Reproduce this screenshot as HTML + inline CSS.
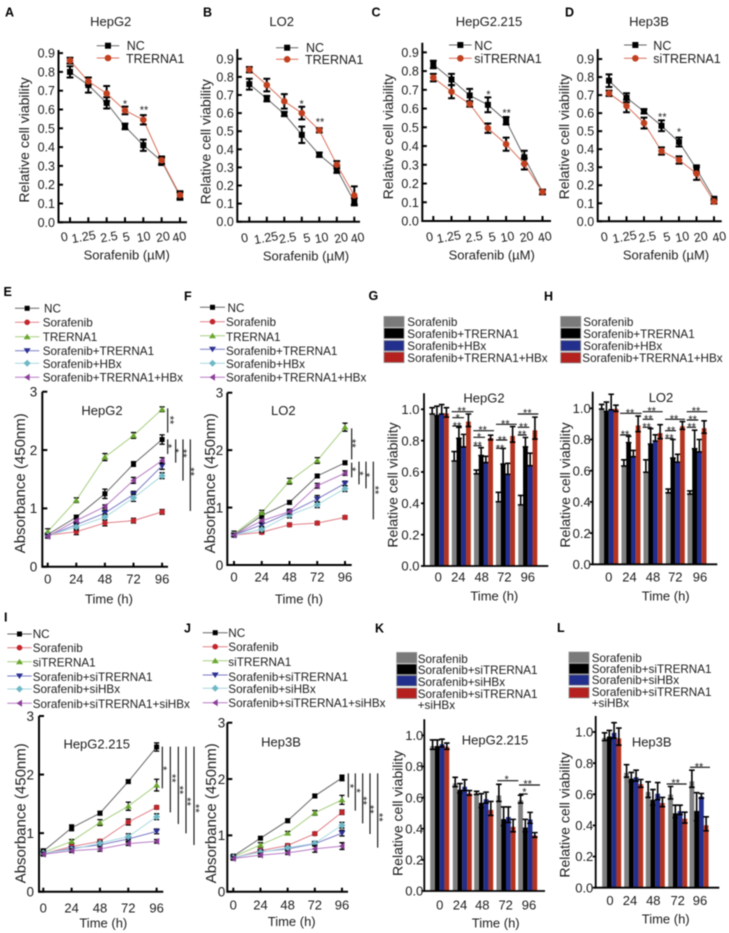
<!DOCTYPE html>
<html lang="en">
<head>
<meta charset="utf-8">
<title>Sorafenib viability and proliferation panels</title>
<style>
html,body{margin:0;padding:0;background:#fff;}
body{width:729px;height:933px;overflow:hidden;}
svg{display:block;filter:blur(.45px);}
text{font-family:"Liberation Sans",sans-serif;fill:#1c1c1c;}
.pl{font-size:12.5px;font-weight:bold;fill:#000;}
.ti{font-size:13px;text-anchor:middle;}
.yt{font-size:14px;text-anchor:middle;}
.yta{font-size:15px;text-anchor:middle;}
.xt{font-size:13px;text-anchor:middle;}
.lg{font-size:12.5px;}
.lm{font-size:11.7px;}
.st{font-size:33px;text-anchor:middle;}
.sg{stroke:#111;stroke-width:3.4;fill:none;}
</style>
</head>
<body>
<svg id="figure" xmlns="http://www.w3.org/2000/svg" width="729" height="933" viewBox="0 0 729 933">
<g id="marks"></g>

<g>
<text class="pl" x="5" y="16.5">A</text>
<text class="pl" x="203" y="16.5">B</text>
<text class="pl" x="371.5" y="16.5">C</text>
<text class="pl" x="565" y="16.5">D</text>
<text class="pl" x="3.5" y="296">E</text>
<text class="pl" x="184" y="300.5">F</text>
<text class="pl" x="368.5" y="300">G</text>
<text class="pl" x="544" y="300.5">H</text>
<text class="pl" x="4" y="621.5">I</text>
<text class="pl" x="184" y="632.5">J</text>
<text class="pl" x="375" y="632.5">K</text>
<text class="pl" x="557" y="632">L</text>
</g>

<g>
<text class="ti" x="110.7" y="26">HepG2</text>
<text class="ti" x="281.7" y="26">LO2</text>
<text class="ti" x="489" y="26">HepG2.215</text>
<text class="ti" x="649" y="26">Hep3B</text>
<text class="ti" x="102" y="415">HepG2</text>
<text class="ti" x="283.3" y="415">LO2</text>
<text class="ti" x="484" y="402.3">HepG2</text>
<text class="ti" x="661" y="402">LO2</text>
<text class="ti" x="96.7" y="748.3">HepG2.215</text>
<text class="ti" x="281" y="746.7">Hep3B</text>
<text class="ti" x="495" y="744.3">HepG2.215</text>
<text class="ti" x="651.7" y="746.7">Hep3B</text>
</g>

<g>
<text class="yt" transform="translate(29,140) rotate(-90)">Relative cell viability</text>
<text class="yt" transform="translate(210.7,141.7) rotate(-90)">Relative cell viability</text>
<text class="yt" transform="translate(393,136.7) rotate(-90)">Relative cell viability</text>
<text class="yt" transform="translate(569,136.7) rotate(-90)">Relative cell viability</text>
<text class="xt" x="126.7" y="259.3">Sorafenib (µM)</text>
<text class="xt" x="306" y="260.7">Sorafenib (µM)</text>
<text class="xt" x="491.7" y="259.3">Sorafenib (µM)</text>
<text class="xt" x="666" y="259.3">Sorafenib (µM)</text>
<text class="yta" transform="translate(25,483.3) rotate(-90)">Absorbance (450nm)</text>
<text class="yta" transform="translate(215,483.3) rotate(-90)">Absorbance (450nm)</text>
<text class="yt" transform="translate(397.3,485) rotate(-90)">Relative cell viability</text>
<text class="yt" transform="translate(570,485) rotate(-90)">Relative cell viability</text>
<text class="yta" transform="translate(25.5,813.3) rotate(-90)">Absorbance (450nm)</text>
<text class="yta" transform="translate(216,813.3) rotate(-90)">Absorbance (450nm)</text>
<text class="yt" transform="translate(402.3,813.3) rotate(-90)">Relative cell viability</text>
<text class="yt" transform="translate(569.3,815) rotate(-90)">Relative cell viability</text>
<text class="xt" x="109" y="603.3">Time (h)</text>
<text class="xt" x="299" y="603.3">Time (h)</text>
<text class="xt" x="494.3" y="600.7">Time (h)</text>
<text class="xt" x="665.7" y="600.7">Time (h)</text>
<text class="xt" x="103.3" y="927.3">Time (h)</text>
<text class="xt" x="291.7" y="926">Time (h)</text>
<text class="xt" x="495.7" y="927.3">Time (h)</text>
<text class="xt" x="665.7" y="923.3">Time (h)</text>
</g>

<g>
<text class="lg" x="126.7" y="50">NC</text>
<text class="lg" x="126" y="63">TRERNA1</text>
<text class="lg" x="306" y="52">NC</text>
<text class="lg" x="305" y="64">TRERNA1</text>
<text class="lg" x="474.3" y="50">NC</text>
<text class="lg" x="474.3" y="63">siTRERNA1</text>
<text class="lg" x="653.3" y="50">NC</text>
<text class="lg" x="653.3" y="63">siTRERNA1</text>

<text class="lm" x="44" y="312.5">NC</text>
<text class="lm" x="42.7" y="326.5">Sorafenib</text>
<text class="lm" x="42.7" y="341">TRERNA1</text>
<text class="lm" x="42.7" y="355">Sorafenib+TRERNA1</text>
<text class="lm" x="42.7" y="368">Sorafenib+HBx</text>
<text class="lm" x="42.7" y="381.5">Sorafenib+TRERNA1+HBx</text>

<text class="lm" x="227.5" y="312">NC</text>
<text class="lm" x="226" y="326">Sorafenib</text>
<text class="lm" x="226" y="341">TRERNA1</text>
<text class="lm" x="226" y="355">Sorafenib+TRERNA1</text>
<text class="lm" x="226" y="368">Sorafenib+HBx</text>
<text class="lm" x="226" y="381.5">Sorafenib+TRERNA1+HBx</text>

<text class="lm" x="407.3" y="326">Sorafenib</text>
<text class="lm" x="407.3" y="338">Sorafenib+TRERNA1</text>
<text class="lm" x="407.3" y="350">Sorafenib+HBx</text>
<text class="lm" x="407.3" y="362">Sorafenib+TRERNA1+HBx</text>

<text class="lm" x="583.3" y="326">Sorafenib</text>
<text class="lm" x="583.3" y="338">Sorafenib+TRERNA1</text>
<text class="lm" x="583.3" y="350">Sorafenib+HBx</text>
<text class="lm" x="582.3" y="362">Sorafenib+TRERNA1+HBx</text>

<text class="lm" x="32.7" y="638">NC</text>
<text class="lm" x="32.7" y="652">Sorafenib</text>
<text class="lm" x="32.7" y="666.5">siTRERNA1</text>
<text class="lm" x="32.7" y="681">Sorafenib+siTRERNA1</text>
<text class="lm" x="32.7" y="693">Sorafenib+siHBx</text>
<text class="lm" x="32.7" y="708">Sorafenib+siTRERNA1+siHBx</text>

<text class="lm" x="228.3" y="637">NC</text>
<text class="lm" x="228.3" y="651">Sorafenib</text>
<text class="lm" x="228.3" y="666">siTRERNA1</text>
<text class="lm" x="228.3" y="681">Sorafenib+siTRERNA1</text>
<text class="lm" x="228.3" y="693">Sorafenib+siHBx</text>
<text class="lm" x="228.3" y="707">Sorafenib+siTRERNA1+siHBx</text>

<text class="lm" x="417.7" y="663">Sorafenib</text>
<text class="lm" x="417.7" y="674">Sorafenib+siTRERNA1</text>
<text class="lm" x="417.7" y="686">Sorafenib+siHBx</text>
<text class="lm" x="417.7" y="698">Sorafenib+siTRERNA1</text>
<text class="lm" x="417.7" y="709">+siHBx</text>

<text class="lm" x="591.7" y="662">Sorafenib</text>
<text class="lm" x="591.7" y="673">Sorafenib+siTRERNA1</text>
<text class="lm" x="591.7" y="684">Sorafenib+siHBx</text>
<text class="lm" x="591.7" y="696">Sorafenib+siTRERNA1</text>
<text class="lm" x="591.7" y="707">+siHBx</text>
</g>

<g transform="scale(.33333)">
<text class="st" x="375" y="322">*</text>
<text class="st" x="432" y="341">**</text>
<text class="st" x="905" y="322">*</text>
<text class="st" x="960" y="376">**</text>
</g>
<g transform="translate(365,0) scale(.33333)">
<text class="st" x="370" y="294">*</text>
<text class="st" x="425" y="349">**</text>
<text class="st" x="892" y="361">**</text>
<text class="st" x="942" y="407">*</text>
</g>

<g transform="translate(0,280) scale(.33333)">
<path class="sg" d="M503 385V458M503 478V522M527 478V548M549 478V602M571 478V693M1055 445V538M1055 548V592M1077 545V613M1098 545V625M1120 545V718"/>
<text class="st" transform="rotate(90 518 420)" x="518" y="439">**</text>
<text class="st" transform="rotate(90 513 498)" x="513" y="517">*</text>
<text class="st" transform="rotate(90 534 512)" x="534" y="531">*</text>
<text class="st" transform="rotate(90 557 520)" x="557" y="539">**</text>
<text class="st" transform="rotate(90 580 575)" x="580" y="594">**</text>
<text class="st" transform="rotate(90 1065 490)" x="1065" y="509">**</text>
<text class="st" transform="rotate(90 1065 568)" x="1065" y="587">*</text>
<text class="st" transform="rotate(90 1087 580)" x="1087" y="599">*</text>
<text class="st" transform="rotate(90 1107 585)" x="1107" y="604">*</text>
<text class="st" transform="rotate(90 1133 630)" x="1133" y="649">**</text>
</g>

<g transform="translate(0,610) scale(.33333)">
<path class="sg" d="M487 410V535M511 410V607M535 410V642M558 410V670M582 410V705M1045 490V562M1066 490V602M1088 490V640M1110 490V672M1133 490V713"/>
<text class="st" transform="rotate(90 498 475)" x="498" y="494">*</text>
<text class="st" transform="rotate(90 525 505)" x="525" y="524">**</text>
<text class="st" transform="rotate(90 547 540)" x="547" y="559">**</text>
<text class="st" transform="rotate(90 570 575)" x="570" y="594">**</text>
<text class="st" transform="rotate(90 595 595)" x="595" y="614">**</text>
<text class="st" transform="rotate(90 1058 528)" x="1058" y="547">*</text>
<text class="st" transform="rotate(90 1078 542)" x="1078" y="561">*</text>
<text class="st" transform="rotate(90 1097 572)" x="1097" y="591">**</text>
<text class="st" transform="rotate(90 1118 598)" x="1118" y="617">**</text>
<text class="st" transform="rotate(90 1145 622)" x="1145" y="641">**</text>
</g>

<g transform="translate(370,280) scale(.33333)">
<path class="sg" d="M245 395H310M247 413H282M247 438H275M310 452H372M310 472H345M310 497H335M378 433H440M378 480H412M378 505H405M443 402H505M443 442H478M443 465H470M750 400H815M750 465H782M818 395H878M818 418H850M818 442H845M885 418H945M885 452H918M885 475H910M950 395H1012M950 420H985M950 442H978"/>
<text class="st" x="275" y="404">**</text>
<text class="st" x="263" y="424">*</text>
<text class="st" x="261" y="449">**</text>
<text class="st" x="338" y="461">**</text>
<text class="st" x="327" y="482">*</text>
<text class="st" x="323" y="507">**</text>
<text class="st" x="406" y="442">**</text>
<text class="st" x="396" y="491">**</text>
<text class="st" x="390" y="516">**</text>
<text class="st" x="472" y="409">**</text>
<text class="st" x="460" y="451">**</text>
<text class="st" x="456" y="474">**</text>
<text class="st" x="780" y="409">**</text>
<text class="st" x="765" y="474">**</text>
<text class="st" x="845" y="404">**</text>
<text class="st" x="835" y="427">**</text>
<text class="st" x="830" y="451">**</text>
<text class="st" x="912" y="427">**</text>
<text class="st" x="903" y="462">**</text>
<text class="st" x="898" y="484">**</text>
<text class="st" x="978" y="404">**</text>
<text class="st" x="968" y="429">**</text>
<text class="st" x="965" y="451">**</text>
</g>

<g transform="translate(385,630) scale(.33333)">
<path class="sg" d="M337 452H400M402 465H465M402 492H428M845 462H905M915 412H975"/>
<text class="st" x="365" y="459">*</text>
<text class="st" x="428" y="472">**</text>
<text class="st" x="418" y="497">*</text>
<text class="st" x="872" y="469">**</text>
<text class="st" x="942" y="421">**</text>
</g>
</svg>

<script>
// ---------- tick labels ----------
const doseLabels = ['0','1.25','2.5','5','10','20','40'];
const timeLabels = ['0','24','48','72','96'];
const viabilityTicks = [0,0.1,0.2,0.3,0.4,0.5,0.6,0.7,0.8,0.9];
const absorbanceTicks = [0,1,2,3];
const barTicks = [0,0.2,0.4,0.6,0.8,1.0];

// ---------- panel A (HepG2) ----------
const a_NC = [0.80,0.73,0.635,0.51,0.41,0.325,0.14];
const a_NC_err = [0.03,0.04,0.03,0.015,0.03,0.02,0.02];
const a_TR = [0.86,0.75,0.685,0.595,0.545,0.33,0.145];
const a_TR_err = [0.015,0.02,0.04,0.02,0.025,0.02,0.02];
// ---------- panel B (LO2) ----------
const b_NC = [0.76,0.68,0.595,0.48,0.37,0.29,0.11];
const b_NC_err = [0.03,0.015,0.012,0.045,0.012,0.02,0.02];
const b_TR = [0.84,0.755,0.665,0.60,0.505,0.315,0.145];
const b_TR_err = [0.015,0.035,0.04,0.035,0.012,0.02,0.05];
// ---------- panel C (HepG2.215) ----------
const c_NC = [0.835,0.755,0.67,0.62,0.535,0.34,0.155];
const c_NC_err = [0.02,0.03,0.035,0.04,0.02,0.035,0.012];
const c_SI = [0.765,0.69,0.625,0.495,0.41,0.305,0.155];
const c_SI_err = [0.02,0.035,0.015,0.025,0.035,0.03,0.012];
// ---------- panel D (Hep3B) ----------
const d_NC = [0.78,0.685,0.61,0.53,0.44,0.29,0.125];
const d_NC_err = [0.035,0.025,0.012,0.03,0.025,0.02,0.01];
const d_SI = [0.71,0.64,0.545,0.39,0.34,0.265,0.11];
const d_SI_err = [0.015,0.035,0.03,0.02,0.02,0.035,0.012];

// ---------- panel E (HepG2 absorbance) ----------
const e_NC = [0.55,0.85,1.25,1.76,2.18];
const e_NC_err = [0.03,0.03,0.08,0.04,0.08];
const e_SOR = [0.54,0.60,0.75,0.79,0.94];
const e_SOR_err = [0.03,0.05,0.05,0.04,0.04];
const e_TR = [0.60,1.14,1.88,2.25,2.70];
const e_TR_err = [0.05,0.04,0.06,0.05,0.04];
const e_ST = [0.53,0.72,0.92,1.24,1.73];
const e_ST_err = [0.03,0.05,0.05,0.05,0.06];
const e_SH = [0.53,0.68,0.85,1.18,1.56];
const e_SH_err = [0.03,0.05,0.05,0.06,0.05];
const e_STH = [0.52,0.79,1.03,1.48,1.82];
const e_STH_err = [0.03,0.03,0.03,0.05,0.05];
// ---------- panel F (LO2 absorbance) ----------
const f_NC = [0.52,0.86,1.09,1.55,1.78];
const f_NC_err = [0.03,0.05,0.03,0.03,0.03];
const f_SOR = [0.52,0.57,0.70,0.73,0.83];
const f_SOR_err = [0.03,0.03,0.03,0.03,0.03];
const f_TR = [0.54,0.91,1.46,1.82,2.40];
const f_TR_err = [0.05,0.04,0.05,0.05,0.07];
const f_ST = [0.52,0.70,0.91,1.15,1.42];
const f_ST_err = [0.03,0.05,0.05,0.06,0.04];
const f_SH = [0.52,0.62,0.87,1.05,1.33];
const f_SH_err = [0.03,0.05,0.05,0.05,0.05];
const f_STH = [0.52,0.77,0.93,1.38,1.60];
const f_STH_err = [0.03,0.04,0.04,0.04,0.04];
// ---------- panel I (HepG2.215 absorbance) ----------
const i_NC = [0.69,1.09,1.34,1.88,2.47];
const i_NC_err = [0.04,0.05,0.03,0.03,0.07];
const i_SOR = [0.65,0.77,0.86,1.19,1.44];
const i_SOR_err = [0.03,0.04,0.03,0.05,0.03];
const i_SI = [0.67,0.86,1.18,1.46,1.82];
const i_SI_err = [0.03,0.03,0.05,0.07,0.10];
const i_SS = [0.65,0.74,0.80,0.90,1.03];
const i_SS_err = [0.03,0.03,0.03,0.04,0.04];
const i_SH = [0.66,0.72,0.83,0.94,1.28];
const i_SH_err = [0.03,0.03,0.03,0.05,0.05];
const i_SB = [0.64,0.70,0.73,0.82,0.86];
const i_SB_err = [0.03,0.03,0.04,0.03,0.03];
// ---------- panel J (Hep3B absorbance) ----------
const j_NC = [0.63,0.95,1.26,1.70,2.02];
const j_NC_err = [0.03,0.02,0.03,0.03,0.05];
const j_SOR = [0.60,0.73,0.82,1.03,1.41];
const j_SOR_err = [0.03,0.03,0.03,0.03,0.04];
const j_SI = [0.62,0.83,1.04,1.40,1.63];
const j_SI_err = [0.03,0.04,0.03,0.04,0.08];
const j_SS = [0.60,0.71,0.76,0.85,1.04];
const j_SS_err = [0.03,0.03,0.03,0.04,0.05];
const j_SH = [0.61,0.70,0.78,0.86,1.18];
const j_SH_err = [0.03,0.03,0.03,0.03,0.05];
const j_SB = [0.59,0.65,0.69,0.76,0.81];
const j_SB_err = [0.03,0.03,0.03,0.06,0.06];

// ---------- panel G (HepG2 bars) ----------
const g_SOR = [0.99,0.70,0.60,0.44,0.42];
const g_SOR_err = [0.02,0.03,0.012,0.03,0.03];
const g_ST = [0.99,0.85,0.73,0.70,0.79];
const g_ST_err = [0.03,0.035,0.025,0.05,0.03];
const g_H = [1.00,0.80,0.68,0.62,0.68];
const g_H_err = [0.03,0.04,0.02,0.035,0.04];
const g_STH = [0.98,0.93,0.82,0.84,0.88];
const g_STH_err = [0.03,0.04,0.015,0.05,0.07];
// ---------- panel H (LO2 bars) ----------
const h_SOR = [1.01,0.65,0.63,0.47,0.46];
const h_SOR_err = [0.015,0.02,0.04,0.012,0.01];
const h_ST = [1.01,0.80,0.82,0.74,0.80];
const h_ST_err = [0.03,0.02,0.05,0.06,0.06];
const h_H = [1.04,0.71,0.81,0.68,0.76];
const h_H_err = [0.05,0.02,0.02,0.025,0.04];
const h_STH = [1.00,0.90,0.85,0.89,0.88];
const h_STH_err = [0.02,0.05,0.045,0.025,0.04];
// ---------- panel K (HepG2.215 bars) ----------
const k_SOR = [0.94,0.70,0.63,0.63,0.59];
const k_SOR_err = [0.03,0.03,0.01,0.055,0.025];
const k_SS = [0.94,0.66,0.58,0.48,0.42];
const k_SS_err = [0.03,0.03,0.045,0.06,0.04];
const k_SH = [0.95,0.68,0.60,0.49,0.47];
const k_SH_err = [0.025,0.035,0.035,0.05,0.035];
const k_SB = [0.93,0.63,0.53,0.42,0.36];
const k_SB_err = [0.02,0.015,0.045,0.04,0.015];
// ---------- panel L (Hep3B bars) ----------
const l_SOR = [0.97,0.75,0.63,0.61,0.70];
const l_SOR_err = [0.025,0.04,0.05,0.04,0.055];
const l_SS = [0.98,0.71,0.58,0.49,0.52];
const l_SS_err = [0.03,0.03,0.05,0.04,0.09];
const l_SH = [1.01,0.72,0.62,0.50,0.59];
const l_SH_err = [0.05,0.035,0.055,0.03,0.015];
const l_SB = [0.97,0.67,0.55,0.45,0.41];
const l_SB_err = [0.055,0.025,0.03,0.035,0.045];

// ---------- styles ----------
const NC_S  = {line:'#666666',mark:'#000000',shape:'square'};
const TWO_S = {line:'#d9705a',mark:'#c0401f',shape:'circle'};
const SOR_S = {line:'#e0808a',mark:'#c1272d',shape:'circle'};
const TR_S  = {line:'#a8cf80',mark:'#6aa62f',shape:'up'};
const ST_S  = {line:'#7c7cc8',mark:'#2b3192',shape:'down'};
const SH_S  = {line:'#a8d8e0',mark:'#6fb8c6',shape:'diamond'};
const STH_S = {line:'#b87cc4',mark:'#8b3f98',shape:'left'};
const BAR_COLORS = ['#808080','#000000','#232f8c','#b5341f'];
const BAR_SWATCH = ['#7a7a7a','#000000','#232f8c','#b5211f'];

const svgNS = 'http://www.w3.org/2000/svg';
const root = document.getElementById('marks');

function mk(parent, tag, attrs, name, interactable) {
  const el = document.createElementNS(svgNS, tag);
  for (const k in attrs) el.setAttribute(k, attrs[k]);
  
  
  parent.appendChild(el);
  return el;
}

function axes(g, L, yTicks, yFmt, xLabels, xPos) {
  const sw = L.axisW;
  const y = v => L.y0 - v * L.unit;
  mk(g,'path',{d:`M${L.axisX} ${L.yTop}V${L.y0}H${L.right}`,fill:'none',stroke:'#000','stroke-width':sw},'axis-lines');
  yTicks.forEach(t => {
    mk(g,'line',{x1:L.axisX + L.yTickA,x2:L.axisX + L.yTickB,y1:y(t),y2:y(t),stroke:'#000','stroke-width':sw},'y-tick');
    const lab = mk(g,'text',{x:L.axisX - L.yLabGap,y:y(t) + L.yFont * .36,'text-anchor':'end','font-size':L.yFont},'y-tick-label');
    lab.textContent = yFmt(t);
  });
  xLabels.forEach((t,i) => {
    const px = xPos(i);
    if (L.xTick) mk(g,'line',{x1:px,x2:px,y1:L.y0,y2:L.y0 - L.xTick,stroke:'#000','stroke-width':sw},'x-tick');
    const lx = px + (L.labelShift ? L.labelShift[i] : 0);
    const attrs = {x:lx,y:L.xLabY,'text-anchor':'middle','font-size':L.xFont};
    if (L.rot) attrs.transform = `rotate(${L.rot} ${lx} ${L.xLabY})`;
    const lab = mk(g,'text',attrs,'x-tick-label');
    lab.textContent = t;
  });
}

function marker(g, x, y, s, r, name) {
  const c = s.mark;
  if (s.shape === 'square') return mk(g,'rect',{x:x-r,y:y-r,width:2*r,height:2*r,fill:c},name);
  if (s.shape === 'circle') return mk(g,'circle',{cx:x,cy:y,r:r+.3,fill:c},name);
  let d;
  if (s.shape === 'up') d = `M${x-r-1} ${y+r}H${x+r+1}L${x} ${y-r-.5}Z`;
  if (s.shape === 'down') d = `M${x-r-1} ${y-r}H${x+r+1}L${x} ${y+r+.5}Z`;
  if (s.shape === 'left') d = `M${x+r} ${y-r-1}V${y+r+1}L${x-r-.5} ${y}Z`;
  if (s.shape === 'diamond') d = `M${x} ${y-r-1}L${x+r+1} ${y}L${x} ${y+r+1}L${x-r-1} ${y}Z`;
  return mk(g,'path',{d:d,fill:c},name);
}

function errorBar(g, x, yHi, yLo, cap, w, name) {
  mk(g,'path',{d:`M${x-cap} ${yHi}H${x+cap}M${x} ${yHi}V${yLo}M${x-cap} ${yLo}H${x+cap}`,fill:'none',stroke:'#000','stroke-width':w},name);
}

function linePanel(id, L, yTicks, yFmt, labels, series) {
  const g = mk(root,'g',{},'chart-' + id);
  axes(g, L, yTicks, yFmt, labels, i => L.first + i * L.step);
  const X = i => L.first + i * L.step;
  const Y = v => L.y0 - v * L.unit;
  series.forEach(s => {
    const sg = mk(g,'g',{},'series-' + s.key);
    mk(sg,'polyline',{points:s.values.map((v,i) => X(i) + ',' + Y(v)).join(' '),fill:'none',stroke:s.style.line,'stroke-width':L.lineW},'series-line');
    s.values.forEach((v,i) => {
      errorBar(sg, X(i), Y(v + s.err[i]), Y(v - s.err[i]), L.cap, L.errW, 'error-bar');
      marker(sg, X(i), Y(v), s.style, L.mr, 'data-point');
    });
  });
  (L.legend || []).forEach((e,i) => {
    const lg = mk(g,'g',{},'legend-entry');
    const st = series[i].style;
    mk(lg,'line',{x1:e.x1,x2:e.x2,y1:e.y,y2:e.y,stroke:st.line,'stroke-width':1},'legend-line');
    marker(lg,(e.x1 + e.x2) / 2,e.y,st,L.mr,'legend-marker');
  });
}

function barPanel(id, L, labels, series, errs) {
  const g = mk(root,'g',{},'chart-' + id);
  const Y = v => L.y0 - v * L.unit;
  const w = L.barW;
  series.forEach((vals,k) => {
    const dip = k === 3 ? .2 : L.dip;
    vals.forEach((v,i) => {
      const cx = L.centers[i] + (k - 1.5) * w;
      const top = Y(v - errs[k][i] * dip);
      mk(g,'rect',{x:cx - w / 2,y:top,width:w,height:L.y0 - top,fill:BAR_COLORS[k]},'bar');
      errorBar(g, cx, Y(v + errs[k][i]), Y(v - errs[k][i]), 2.8, 1.6, 'error-bar');
    });
  });
  axes(g, L, barTicks, t => t.toFixed(1), labels, i => L.centers[i]);
  L.swatches.ys.forEach((y,k) => {
    mk(g,'rect',{x:L.swatches.x,y:y - 5.2,width:20,height:10.4,fill:BAR_SWATCH[k],stroke:'#8a8a8a','stroke-width':.8},'legend-swatch');
  });
}

const common4 = {axisW:2,yTickA:0,yTickB:4.5,yLabGap:3.5,yFont:12.5,xTick:5,xFont:12.5,xLabY:241,rot:-10,lineW:1,cap:3.4,errW:2,mr:3};
const commonTime = {axisW:2,yTickA:0,yTickB:5,yLabGap:5,yFont:13.5,xTick:4,xFont:13,lineW:1,cap:2.6,errW:1.3,mr:2.5};
const commonBar = {axisW:1.8,yTickA:-3,yTickB:0,yLabGap:4.5,yFont:13,xTick:0,xFont:13,barW:4.75,dip:.3};

linePanel('a',Object.assign({},common4,{axisX:58.5,y0:222.3,yTop:50,unit:188,first:70,step:18.33,right:187,labelShift:[-5,-4,3,2,1,2,0],legend:[{x1:96.7,x2:119.3,y:45.7},{x1:96.7,x2:119.3,y:58}]}),viabilityTicks,t=>t.toFixed(1),doseLabels,[
  {key:'nc',values:a_NC,err:a_NC_err,style:NC_S},
  {key:'trerna1',values:a_TR,err:a_TR_err,style:TWO_S}]);
linePanel('b',Object.assign({},common4,{axisX:237.3,y0:221.7,yTop:49,unit:181,first:249.3,step:17.5,right:360,xLabY:242,labelShift:[-4,0,4,5.7,3,5,4],legend:[{x1:276,x2:298.3,y:47.7},{x1:276,x2:298.3,y:59.3}]}),viabilityTicks,t=>t.toFixed(1),doseLabels,[
  {key:'nc',values:b_NC,err:b_NC_err,style:NC_S},
  {key:'trerna1',values:b_TR,err:b_TR_err,style:TWO_S}]);
linePanel('c',Object.assign({},common4,{axisX:422.3,y0:221,yTop:42.7,unit:187.4,first:433.3,step:18.2,right:551,labelShift:[-3,-2,5,5,2,3,3],legend:[{x1:449,x2:471.7,y:45},{x1:449,x2:471.7,y:58.3}]}),viabilityTicks,t=>t.toFixed(1),doseLabels,[
  {key:'nc',values:c_NC,err:c_NC_err,style:NC_S},
  {key:'sitrerna1',values:c_SI,err:c_SI_err,style:TWO_S}]);
linePanel('d',Object.assign({},common4,{axisX:597.7,y0:221.3,yTop:49,unit:180.3,first:609,step:17.5,right:721.7,labelShift:[-4,-1.3,4,6,4,5,6],legend:[{x1:624,x2:646.7,y:45},{x1:624,x2:646.7,y:58.3}]}),viabilityTicks,t=>t.toFixed(1),doseLabels,[
  {key:'nc',values:d_NC,err:d_NC_err,style:NC_S},
  {key:'sitrerna1',values:d_SI,err:d_SI_err,style:TWO_S}]);

function six(x1,x2,ys){ return ys.map(y => ({x1:x1,x2:x2,y:y})); }

linePanel('e',Object.assign({},commonTime,{axisX:42.3,y0:566.7,yTop:391.7,unit:58.33,first:47.7,step:28.6,right:168,xLabY:583.3,legend:six(15,39.3,[308.3,322.3,336.7,350.7,363.3,377.3])}),absorbanceTicks,t=>String(t),timeLabels,[
  {key:'nc',values:e_NC,err:e_NC_err,style:NC_S},
  {key:'sorafenib',values:e_SOR,err:e_SOR_err,style:SOR_S},
  {key:'trerna1',values:e_TR,err:e_TR_err,style:TR_S},
  {key:'sorafenib-trerna1',values:e_ST,err:e_ST_err,style:ST_S},
  {key:'sorafenib-hbx',values:e_SH,err:e_SH_err,style:SH_S},
  {key:'sorafenib-trerna1-hbx',values:e_STH,err:e_STH_err,style:STH_S}]);
linePanel('f',Object.assign({},commonTime,{axisX:227.3,y0:565,yTop:392.7,unit:57.43,first:234,step:27.75,right:351.7,xLabY:581.7,yLabGap:4,legend:six(200,225,[307.3,321.7,335.7,349.3,363.3,377.3])}),absorbanceTicks,t=>String(t),timeLabels,[
  {key:'nc',values:f_NC,err:f_NC_err,style:NC_S},
  {key:'sorafenib',values:f_SOR,err:f_SOR_err,style:SOR_S},
  {key:'trerna1',values:f_TR,err:f_TR_err,style:TR_S},
  {key:'sorafenib-trerna1',values:f_ST,err:f_ST_err,style:ST_S},
  {key:'sorafenib-hbx',values:f_SH,err:f_SH_err,style:SH_S},
  {key:'sorafenib-trerna1-hbx',values:f_STH,err:f_STH_err,style:STH_S}]);
linePanel('i',Object.assign({},commonTime,{axisX:39,y0:891.7,yTop:716,unit:58.57,first:43.3,step:28.33,right:163.3,xLabY:912.7,legend:six(7.3,31.7,[634,647.7,661.7,676,689,703.3])}),absorbanceTicks,t=>String(t),timeLabels,[
  {key:'nc',values:i_NC,err:i_NC_err,style:NC_S},
  {key:'sorafenib',values:i_SOR,err:i_SOR_err,style:SOR_S},
  {key:'sitrerna1',values:i_SI,err:i_SI_err,style:TR_S},
  {key:'sorafenib-sitrerna1',values:i_SS,err:i_SS_err,style:ST_S},
  {key:'sorafenib-sihbx',values:i_SH,err:i_SH_err,style:SH_S},
  {key:'sorafenib-sitrerna1-sihbx',values:i_SB,err:i_SB_err,style:STH_S}]);
linePanel('j',Object.assign({},commonTime,{axisX:227.3,y0:891.7,yTop:722.7,unit:56.33,first:233.3,step:27.17,right:348,xLabY:909.3,yLabGap:2,legend:six(202.7,227.7,[632.7,646.7,660.7,675,688.3,702.7])}),absorbanceTicks,t=>String(t),timeLabels,[
  {key:'nc',values:j_NC,err:j_NC_err,style:NC_S},
  {key:'sorafenib',values:j_SOR,err:j_SOR_err,style:SOR_S},
  {key:'sitrerna1',values:j_SI,err:j_SI_err,style:TR_S},
  {key:'sorafenib-sitrerna1',values:j_SS,err:j_SS_err,style:ST_S},
  {key:'sorafenib-sihbx',values:j_SH,err:j_SH_err,style:SH_S},
  {key:'sorafenib-sitrerna1-sihbx',values:j_SB,err:j_SB_err,style:STH_S}]);

barPanel('g',Object.assign({},commonBar,{axisX:424,y0:566,yTop:393.3,unit:156.7,right:548.3,xLabY:581.7,dip:.9,centers:[439.3,461.3,483.5,505.5,527.8],labelShift:[-1,-3,-1.8,-1.2,0],swatches:{x:384,ys:[321.7,333.3,345.7,357.3]}}),timeLabels,[g_SOR,g_ST,g_H,g_STH],[g_SOR_err,g_ST_err,g_H_err,g_STH_err]);
barPanel('h',Object.assign({},commonBar,{axisX:592.7,y0:564.3,yTop:391.7,unit:156,right:717.3,xLabY:581.7,yLabGap:2,dip:.9,centers:[608.8,631,653,675.3,697],labelShift:[0,-1.5,0,0,3],swatches:{x:560.7,ys:[321.7,333.3,345.7,357.7]}}),timeLabels,[h_SOR,h_ST,h_H,h_STH],[h_SOR_err,h_ST_err,h_H_err,h_STH_err]);
barPanel('k',Object.assign({},commonBar,{axisX:424.3,y0:891,yTop:719.3,unit:155.7,right:545,xLabY:909.3,yLabGap:1,centers:[439.7,462.3,483.7,506,527.7],labelShift:[0,-2.3,-1.4,-.3,1.3],swatches:{x:396.7,ys:[657.7,669.3,680.7,693.3]}}),timeLabels,[k_SOR,k_SS,k_SH,k_SB],[k_SOR_err,k_SS_err,k_SH_err,k_SB_err]);
barPanel('l',Object.assign({},commonBar,{axisX:595.7,y0:887.7,yTop:716,unit:155.7,right:719.3,xLabY:905,yLabGap:2.4,centers:[611.7,633.7,655.3,677.7,699],labelShift:[-1.7,-3.7,-2,0,1],swatches:{x:569,ys:[657.3,668.7,680,692.7]}}),timeLabels,[l_SOR,l_SS,l_SH,l_SB],[l_SOR_err,l_SS_err,l_SH_err,l_SB_err]);
</script>
</body>
</html>
